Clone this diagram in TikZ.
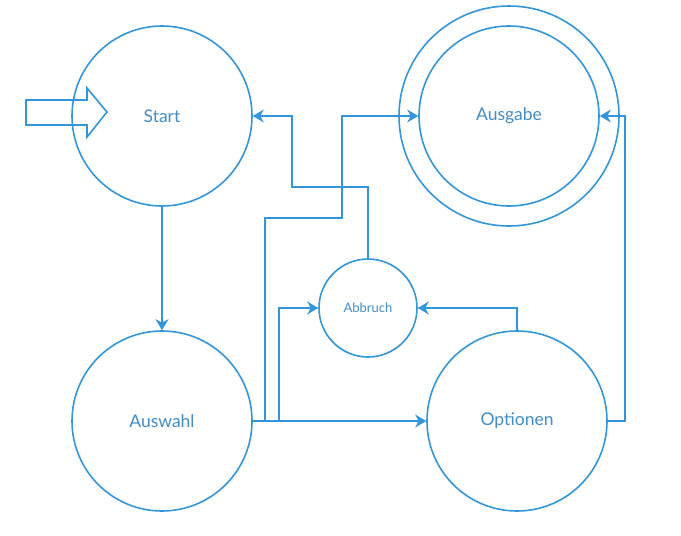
\documentclass[tikz,border=0pt]{standalone}
\usepackage{fontspec}
\setmainfont{Lato}
\usetikzlibrary{arrows.meta}
\definecolor{zblau}{RGB}{52,150,218}
\definecolor{ztext}{RGB}{66,140,200}
\begin{document}
\begin{tikzpicture}[x=1pt,y=-1pt,
   zustand/.style={circle,draw=zblau,line width=1.6pt,minimum size=180pt,
     inner sep=0pt,text=ztext,font=\fontsize{17.5}{19}\selectfont},
   pfeil/.style={draw=zblau,line width=1.6pt,
     -{Stealth[length=11pt,width=13pt,inset=3.5pt]}}]
   \useasboundingbox (0,0) rectangle (681,536);

   \node[zustand] (start) at (162,116) {Start};
   \node[zustand] (auswahl) at (162,421) {Auswahl};
   \node[zustand] (ausgabe) at (509,116) {Ausgabe};
   \draw[zblau,line width=1.6pt] (ausgabe.center) circle (110);
   \node[zustand] (optionen) at (517,421) {Optionen};
   \node[zustand,minimum size=98pt,font=\fontsize{13}{15}\selectfont]
     (abbruch) at (368,308) {Abbruch};

   % Einstieg
   \draw[zblau,line width=1.6pt]
   (26,100) -- (87,100) -- (87,88) -- (107,112) -- (87,137) -- (87,125)
   -- (26,125) -- cycle;

   \draw[pfeil] (start.south) -- (auswahl.north);
   \draw[pfeil] (abbruch.north) |- (292,187) |- (start.east);
   \draw[pfeil] (auswahl.east) -| (265,218) -| (342,116) -- (ausgabe.west);
   \draw[pfeil] (auswahl.east) -| (279,308) -- (abbruch.west);
   \draw[pfeil] (auswahl.east) -- (optionen.west);
   \draw[pfeil] (optionen.north) |- (abbruch.east);
   \draw[pfeil] (optionen.east) -| (625,116) -- (ausgabe.east);
 \end{tikzpicture}
\end{document}
